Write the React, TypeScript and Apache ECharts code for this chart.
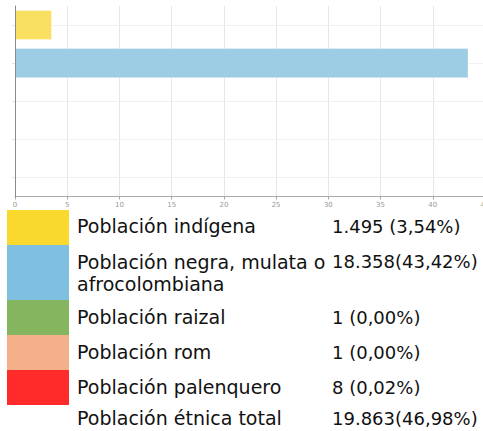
import React, { useEffect, useRef } from "react";
import * as echarts from "echarts";

const categories = [
  "Población indígena",
  "Población negra, mulata o afrocolombiana",
  "Población raizal",
  "Población rom",
  "Población palenquero",
];
const tableLabels = [
  "Población indígena",
  "Población negra, mulata o\nafrocolombiana",
  "Población raizal",
  "Población rom",
  "Población palenquero",
];
const percents = [3.54, 43.42, 0.0, 0.0, 0.02];
const counts = ["1.495", "18.358", "1", "1", "8"];
const percentTexts = ["3,54%", "43,42%", "0,00%", "0,00%", "0,02%"];
const totalLabel = "Población étnica total";
const totalCount = "19.863";
const totalPercent = "46,98%";
const barColors = ["#FAE060", "#9CCDE4", "#9DC87F", "#F6C3A5", "#FF6A6A"];
const swatchColors = ["#F9D92E", "#7FC0E0", "#86B55F", "#F3B08A", "#FF2B2B"];
const xTicks = [0, 45, 5];

export default function App() {
  const ref = useRef<HTMLDivElement>(null);
  useEffect(() => {
    if (!ref.current) return;
    const chart = echarts.init(ref.current, undefined, { renderer: "svg" });
    const font = "DejaVu Sans";
    const rowTops = [210, 245, 300, 335, 370];
    const rowBottoms = [245, 300, 335, 370, 405];
    const textCenters = [226, 261.5, 317, 352, 387];
    const graphics: any[] = [];
    tableLabels.forEach((lab, i) => {
      graphics.push({
        type: "rect",
        shape: { x: 7, y: rowTops[i], width: 62, height: rowBottoms[i] - rowTops[i] },
        style: { fill: swatchColors[i] },
      });
      const lines = lab.split("\n");
      lines.forEach((ln, j) => {
        graphics.push({
          type: "text",
          x: 77,
          y: textCenters[i] + j * 22,
          style: { text: ln, font: `19px '${font}'`, fill: "#111", verticalAlign: "middle", align: "left" },
        });
      });
      const sep = counts[i].length > 4 && percentTexts[i].length > 5 ? "" : " ";
      graphics.push({
        type: "text",
        x: 332,
        y: textCenters[i],
        style: { text: `${counts[i]}${sep}(${percentTexts[i]})`, font: `18px '${font}'`, fill: "#111", verticalAlign: "middle", align: "left" },
      });
    });
    graphics.push({
      type: "text",
      x: 77,
      y: 418,
      style: { text: totalLabel, font: `19px '${font}'`, fill: "#111", verticalAlign: "middle" },
    });
    graphics.push({
      type: "text",
      x: 332,
      y: 418,
      style: { text: `${totalCount}(${totalPercent})`, font: `18px '${font}'`, fill: "#111", verticalAlign: "middle" },
    });

    chart.setOption({
      animation: false,
      grid: { left: 15, top: 6, width: 470, height: 190.5, containLabel: false, outerBoundsMode: "none" },
      xAxis: {
        type: "value",
        min: xTicks[0],
        max: xTicks[1],
        interval: xTicks[2],
        axisLine: { show: true, lineStyle: { color: "#aaa", width: 1 } },
        axisTick: { show: true, length: 3, lineStyle: { color: "#aaa" } },
        axisLabel: { fontSize: 7, color: "#999", margin: 5, fontFamily: font },
        splitLine: { show: true, lineStyle: { color: "#e6e6e6" } },
      },
      yAxis: {
        type: "category",
        inverse: true,
        data: categories,
        z: 5,
        axisLine: { show: true, lineStyle: { color: "#8a8a8a" } },
        axisTick: { show: true, alignWithLabel: true, length: 3, lineStyle: { color: "#e6e6e6" } },
        axisLabel: { show: false },
        splitLine: { show: false },
      },
      series: [
        {
          type: "bar",
          barCategoryGap: "21%",
          data: percents.map((v, i) => ({
            value: v,
            itemStyle: { color: barColors[i], borderColor: "rgba(255,255,255,0.35)", borderWidth: 1 },
          })),
          z: 3,
          markLine: {
            silent: true,
            symbol: "none",
            label: { show: false },
            lineStyle: { color: "#f0f0f0", type: "solid", width: 1 },
            data: categories.map((c) => ({ yAxis: c })),
            z: 1,
          },
        },
      ],
      graphic: graphics,
    });
    return () => chart.dispose();
  }, []);
  return (
    <div
      ref={ref}
      style={{ position: "absolute", left: 0, top: 0, width: 483, height: 431, background: "#fff" }}
    />
  );
}
